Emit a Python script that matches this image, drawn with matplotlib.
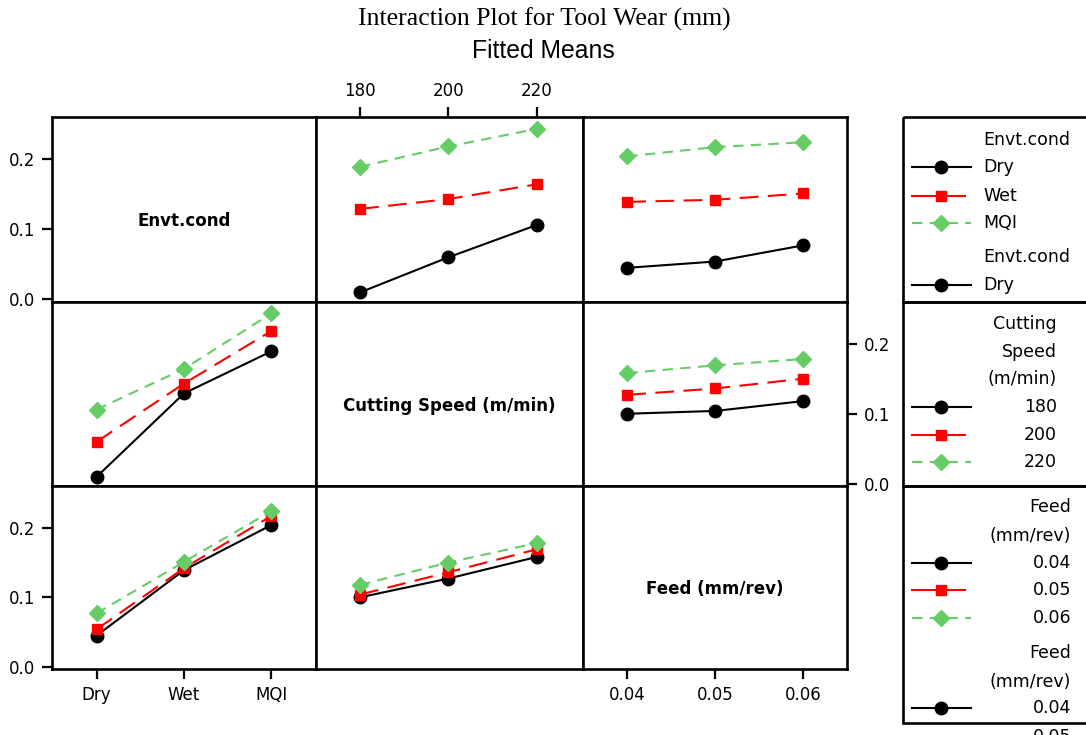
import matplotlib
matplotlib.use("Agg")
import matplotlib.pyplot as plt
from matplotlib.patches import Rectangle

# Factor levels
envt_levels = ["Dry", "Wet", "MQI"]
speed_levels = [180, 200, 220]
feed_levels = [0.04, 0.05, 0.06]
factor_names = ["Envt.cond", "Cutting Speed (m/min)", "Feed (mm/rev)"]

# Fitted means of tool wear (mm); rows = levels of the first factor,
# columns = levels of the second factor
envt_by_speed = [[0.010, 0.060, 0.106],
                 [0.129, 0.143, 0.164],
                 [0.189, 0.218, 0.243]]
envt_by_feed = [[0.045, 0.054, 0.077],
                [0.139, 0.142, 0.151],
                [0.204, 0.217, 0.224]]
speed_by_feed = [[0.100, 0.104, 0.118],
                 [0.127, 0.136, 0.150],
                 [0.158, 0.169, 0.178]]

W, H = 1086, 735
fig = plt.figure(figsize=(W / 100, H / 100), dpi=100)
plt.rcParams["font.family"] = "DejaVu Sans"

GREEN = "#66CC66"
styles = [
    dict(color="black", marker="o", markersize=9, linestyle="-", lw=1.5),
    dict(color="#FF0000", marker="s", markersize=7, linestyle=(0, (9, 4.5)), lw=1.5),
    dict(color=GREEN, marker="D", markersize=8, linestyle=(0, (5, 3.5)), lw=1.5),
]
# legend key line: start, end (pixels) and line style
legend_keys = [(912, 971, "-"), (912, 965, "-"), (912, 971, (0, (5, 3.5)))]

tables = {(0, 1): envt_by_speed, (0, 2): envt_by_feed, (1, 2): speed_by_feed}
xvals = [list(range(3)), speed_levels, feed_levels]
xlims = [(-0.51, 2.51), (170, 230.4), (0.0349, 0.065)]

col_edges = [52, 316, 582.5, 847]
row_edges = [117, 301.5, 486, 669]
YLIM = (-0.003, 0.26)
FRAME_LW = 1.9


def px_axes(x0, x1, y0, y1):
    return fig.add_axes([x0 / W, 1 - y1 / H, (x1 - x0) / W, (y1 - y0) / H])


def cell_values(i, j):
    """Traces over levels of factor i, plotted against levels of factor j."""
    if (i, j) in tables:
        t = tables[(i, j)]
        return [t[k] for k in range(3)]
    t = tables[(j, i)]
    return [[t[m][k] for m in range(3)] for k in range(3)]


for i in range(3):
    for j in range(3):
        ax = px_axes(col_edges[j], col_edges[j + 1], row_edges[i], row_edges[i + 1])
        ax.set_xlim(*xlims[j])
        ax.set_ylim(*YLIM)
        for s in ax.spines.values():
            s.set_linewidth(FRAME_LW)
        ax.tick_params(which="both", length=7, width=1.6, labelsize=12,
                       direction="out", pad=5,
                       left=False, right=False, top=False, bottom=False,
                       labelleft=False, labelright=False,
                       labeltop=False, labelbottom=False)
        if i == j:
            ax.text(0.5, 0.435, factor_names[i], transform=ax.transAxes,
                    ha="center", va="center", fontsize=12, fontweight="bold")
        else:
            for k, vals in enumerate(cell_values(i, j)):
                ax.plot(xvals[j], vals, clip_on=False, zorder=3, **styles[k])

        yt = [0.0, 0.1, 0.2]
        ylabels = ["0.0", "0.1", "0.2"]
        if j == 0 and i in (0, 2):
            ax.set_yticks(yt, ylabels)
            ax.tick_params(left=True, labelleft=True)
        if j == 2 and i == 1:
            ax.set_yticks(yt, ylabels)
            ax.tick_params(right=True, labelright=True)
        if i == 0 and j == 1:
            ax.set_xticks(speed_levels, [str(v) for v in speed_levels])
            ax.tick_params(top=True, labeltop=True)
        if i == 2 and j == 0:
            ax.set_xticks(xvals[0], envt_levels)
            ax.tick_params(bottom=True, labelbottom=True)
        if i == 2 and j == 2:
            ax.set_xticks(feed_levels, [f"{v:.2f}" for v in feed_levels])
            ax.tick_params(bottom=True, labelbottom=True)

# Overlay in pixel coordinates for the titles and the legend boxes
ov = fig.add_axes([0, 0, 1, 1])
ov.set_xlim(0, W)
ov.set_ylim(H, 0)
ov.axis("off")

ov.text(544, 19, "Interaction Plot for Tool Wear (mm)", ha="center", va="center",
        fontsize=18.5, family=["Liberation Serif", "DejaVu Serif"])
ov.text(543, 51, "Fitted Means", ha="center", va="center",
        fontsize=17.8, family=["Liberation Sans", "DejaVu Sans"])

box_x = 902.7
boxes = [(117, 301.7), (301.7, 486), (486, 723.3)]
for (b0, b1) in boxes:
    ov.add_patch(Rectangle((box_x, b0), 300, b1 - b0, fill=False,
                           lw=FRAME_LW, edgecolor="black"))

LEG_FS = 12.5


def sample(y, k):
    st = styles[k]
    x0, x1, ls = legend_keys[k]
    ov.plot([x0, x1], [y, y], color=st["color"], linestyle=ls,
            lw=st["lw"], clip_on=False)
    ov.plot([941], [y], color=st["color"], marker=st["marker"],
            markersize=st["markersize"], linestyle="none", clip_on=False)


# Box 1: environment condition
ov.text(983, 140, factor_names[0], ha="left", va="center", fontsize=LEG_FS)
for k, (lab, y) in enumerate(zip(envt_levels, [167.3, 195.7, 223.3])):
    sample(y, k)
    ov.text(983, y, lab, ha="left", va="center", fontsize=LEG_FS)
ov.text(983, 256.7, factor_names[0], ha="left", va="center", fontsize=LEG_FS)
sample(285, 0)
ov.text(983, 285, envt_levels[0], ha="left", va="center", fontsize=LEG_FS)

# Box 2: cutting speed
for txt, y in zip(["Cutting", "Speed", "(m/min)"], [324, 351.7, 379.3]):
    ov.text(1057, y, txt, ha="right", va="center", fontsize=LEG_FS)
for k, (lev, y) in enumerate(zip(speed_levels, [407.3, 435, 462.3])):
    sample(y, k)
    ov.text(1057, y, str(lev), ha="right", va="center", fontsize=LEG_FS)

# Box 3: feed
for txt, y in zip(["Feed", "(mm/rev)"], [506.7, 535.7]):
    ov.text(1071, y, txt, ha="right", va="center", fontsize=LEG_FS)
for k, (lev, y) in enumerate(zip(feed_levels, [562.7, 590, 618.3])):
    sample(y, k)
    ov.text(1071, y, f"{lev:.2f}", ha="right", va="center", fontsize=LEG_FS)
for txt, y in zip(["Feed", "(mm/rev)"], [653.3, 681.7]):
    ov.text(1071, y, txt, ha="right", va="center", fontsize=LEG_FS)
sample(708.3, 0)
ov.text(1071, 708.3, f"{feed_levels[0]:.2f}", ha="right", va="center", fontsize=LEG_FS)
ov.text(1071, 737, f"{feed_levels[1]:.2f}", ha="right", va="center", fontsize=LEG_FS)

fig.savefig("out.png", dpi=100)
